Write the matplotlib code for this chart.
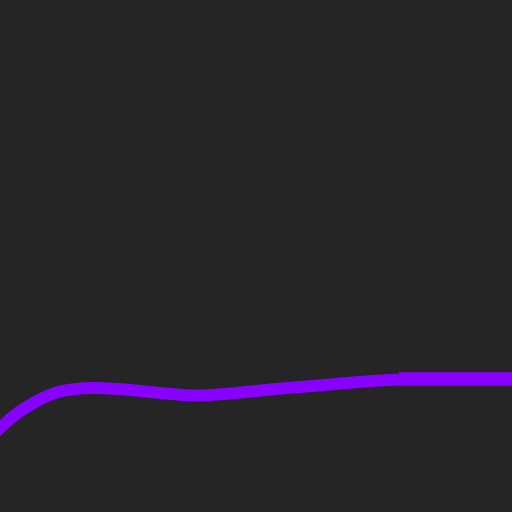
import matplotlib
matplotlib.use("Agg")
import matplotlib.pyplot as plt
from matplotlib.path import Path
from matplotlib.patches import PathPatch

# curve anchor points (x, height from bottom of canvas)
curve_x = [-12, 0, 15, 30, 45, 60, 78, 95, 125, 160, 195, 230, 270, 300, 330, 365, 399]
curve_y = [512 - v for v in [440, 428, 415, 405, 397, 391.5, 388.8, 388, 389.5, 393, 395.5, 393.5, 389.5, 387, 384.5, 381.5, 379.5]]

# flat segment
flat_x = [399, 512]
flat_y = [512 - 379, 512 - 379]

bg = "#252525"
purple = "#8800ff"
fig = plt.figure(figsize=(5.12, 5.12), dpi=100, facecolor=bg)
ax = fig.add_axes([0, 0, 1, 1])
ax.set_facecolor(bg)
ax.set_xlim(0, 512)
ax.set_ylim(0, 512)
ax.axis("off")

# smooth path through anchors (Catmull-Rom handles as cubic Bezier)
pts = list(zip(curve_x, curve_y))
verts = [pts[0]]
codes = [Path.MOVETO]
n = len(pts)
for i in range(n - 1):
    p0 = pts[i - 1] if i > 0 else pts[i]
    p1 = pts[i]
    p2 = pts[i + 1]
    p3 = pts[i + 2] if i + 2 < n else pts[i + 1]
    c1 = (p1[0] + (p2[0] - p0[0]) / 6, p1[1] + (p2[1] - p0[1]) / 6)
    c2 = (p2[0] - (p3[0] - p1[0]) / 6, p2[1] - (p3[1] - p1[1]) / 6)
    verts += [c1, c2, p2]
    codes += [Path.CURVE4] * 3
ax.add_patch(PathPatch(Path(verts, codes), facecolor="none", edgecolor=purple,
                       lw=8.6, capstyle="butt", joinstyle="round"))
ax.plot(flat_x, flat_y, color=purple, lw=9.8, solid_capstyle="butt")

fig.savefig("out.png", dpi=100, facecolor=bg)
